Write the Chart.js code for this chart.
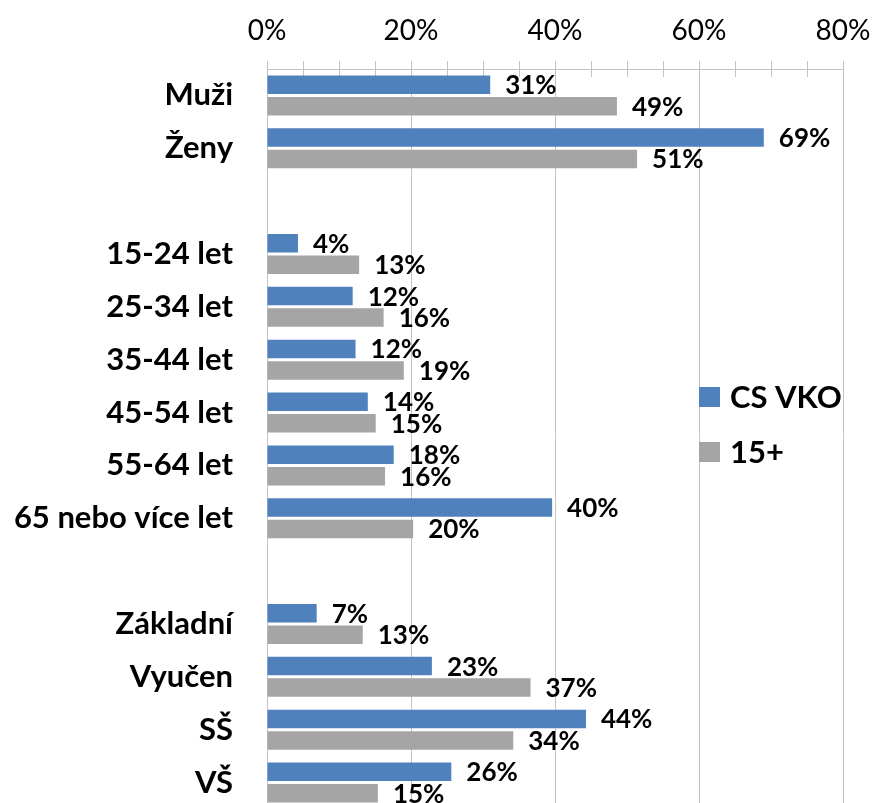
<!DOCTYPE html>
<html>
<head>
<meta charset="utf-8">
<script src="https://cdn.jsdelivr.net/npm/chart.js@4.4.1/dist/chart.umd.min.js"></script>
<style>
    html, body { margin: 0; padding: 0; background: #fff; overflow: hidden; }
</style>
</head>
<body>
<canvas id="graphBars" width="873" height="809"></canvas>
<script>
const categories = ["Muži", "Ženy", "", "15-24 let", "25-34 let", "35-44 let", "45-54 let", "55-64 let",
    "65 nebo více let", "", "Základní", "Vyučen", "SŠ", "VŠ"];
const data_cs = [31.0, 69.0, null, 4.3, 11.9, 12.3, 14.0, 17.6, 39.6, null, 6.9, 22.9, 44.3, 25.6];
const data_15 = [48.6, 51.4, null, 12.8, 16.2, 19.0, 15.1, 16.4, 20.3, null, 13.3, 36.6, 34.2, 15.4];
const xMin = 0, xMax = 80, xStep = 5, xMajor = 20;

const FONT = "Lato";
const gridGrey = "#c3c3c3";

// popisky hodnot za koncem sloupce
const valueLabels = {
    id: "valueLabels",
    afterDatasetsDraw(chart) {
        const ctx = chart.ctx;
        ctx.save();
        ctx.font = "bold 26px " + FONT;
        ctx.fillStyle = "#000";
        ctx.textAlign = "left";
        ctx.textBaseline = "middle";
        chart.data.datasets.forEach((ds, i) => {
            chart.getDatasetMeta(i).data.forEach((bar, j) => {
                const v = ds.data[j];
                if (v === null) return;
                ctx.fillText(Math.round(v) + "%", bar.x + 15, bar.y + 1);
            });
        });
        ctx.restore();
    }
};

// značky osy x i dovnitř grafu (křížové)
const crossTicks = {
    id: "crossTicks",
    beforeDatasetsDraw(chart) {
        const ctx = chart.ctx;
        const sx = chart.scales.x;
        ctx.save();
        ctx.strokeStyle = gridGrey;
        ctx.lineWidth = 1;
        ctx.beginPath();
        sx.ticks.forEach(t => {
            const px = Math.round(sx.getPixelForValue(t.value)) + 0.5;
            ctx.moveTo(px, sx.bottom);
            ctx.lineTo(px, sx.bottom + 8);
        });
        ctx.stroke();
        ctx.restore();
    }
};

// legenda uvnitř grafu
const innerLegend = {
    id: "innerLegend",
    afterDraw(chart) {
        const ctx = chart.ctx;
        const area = chart.chartArea;
        const x = area.right - 144;
        let y = 397;
        ctx.save();
        ctx.font = "bold 31px " + FONT;
        ctx.textAlign = "left";
        ctx.textBaseline = "middle";
        chart.data.datasets.forEach(ds => {
            ctx.fillStyle = ds.backgroundColor;
            ctx.fillRect(x, y - 10, 21, 20);
            ctx.fillStyle = "#000";
            ctx.fillText(ds.label, x + 31, y + 1);
            y += 55;
        });
        ctx.restore();
    }
};

new Chart(document.getElementById("graphBars"), {
    type: "bar",
    data: {
        labels: categories,
        datasets: [
            {
                label: "CS VKO",
                data: data_cs,
                backgroundColor: "#4f81bd",
                categoryPercentage: 0.813,
                barPercentage: 0.86
            },
            {
                label: "15+",
                data: data_15,
                backgroundColor: "#a5a5a5",
                categoryPercentage: 0.813,
                barPercentage: 0.86
            }
        ]
    },
    options: {
        indexAxis: "y",
        responsive: false,
        animation: false,
        devicePixelRatio: 1,
        layout: { padding: { top: 0, right: 30, bottom: 0, left: 0 } },
        plugins: {
            legend: { display: false },
            tooltip: { enabled: false }
        },
        scales: {
            x: {
                position: "top",
                min: xMin,
                max: xMax,
                afterFit(scale) {
                    scale.height = 69;
                    scale.paddingLeft = 0;
                    scale.paddingRight = 0;
                },
                ticks: {
                    stepSize: xStep,
                    autoSkip: false,
                    maxRotation: 0,
                    padding: 13,
                    color: "#000",
                    font: { family: FONT, size: 28 },
                    callback: v => (v % xMajor === 0 ? v + "%" : "")
                },
                grid: {
                    color: c => (c.tick && c.tick.value % xMajor === 0 ? gridGrey : "transparent"),
                    tickColor: gridGrey,
                    tickLength: 8,
                    lineWidth: 1
                },
                border: { display: true, color: gridGrey }
            },
            y: {
                afterFit(scale) {
                    scale.width = 267;
                    scale.paddingTop = 0;
                    scale.paddingBottom = 0;
                },
                ticks: {
                    padding: 34,
                    color: "#000",
                    font: { family: FONT, size: 31, weight: "bold" }
                },
                grid: { display: false, drawTicks: false },
                border: { display: true, color: gridGrey }
            }
        }
    },
    plugins: [valueLabels, crossTicks, innerLegend]
});
</script>
</body>
</html>
